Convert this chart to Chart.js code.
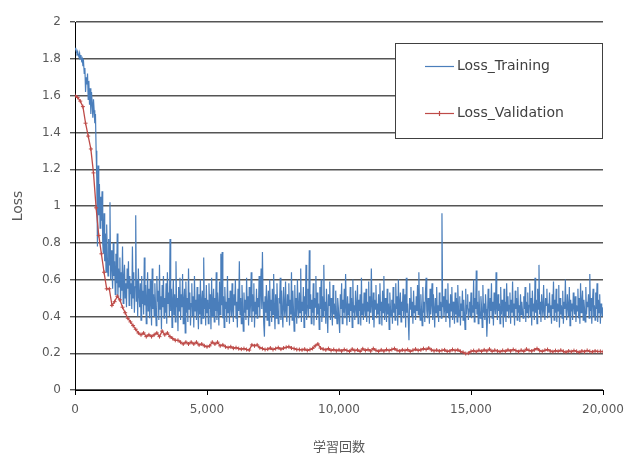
<!DOCTYPE html>
<html>
<head>
<meta charset="utf-8">
<script src="https://cdn.jsdelivr.net/npm/chart.js@4/dist/chart.umd.min.js"></script>
<style>
  html, body { margin: 0; padding: 0; background: #fff; }
  #wrap { width: 627px; height: 456px; position: relative; }
</style>
</head>
<body>
<div id="wrap"><canvas id="lossChart"></canvas></div>
<script>
// Loss values
const trainStep = 25;   // iterations between training samples
const validStep = 100;  // iterations between validation samples

const lossTraining = [
  1.85, 1.86, 1.84, 1.83, 1.84, 1.82, 1.81, 1.83, 1.80, 1.82, 1.79, 1.80, 1.76, 1.78, 1.72, 1.75, 1.62, 1.70, 1.66, 1.72,
  1.58, 1.68, 1.55, 1.64, 1.50, 1.62, 1.56, 1.48, 1.58, 1.52, 1.45, 1.50, 1.30, 1.15, 0.78, 1.22, 0.95, 1.12, 0.88, 1.05,
  0.92, 1.08, 0.80, 0.74, 0.96, 0.70, 0.85, 0.64, 0.90, 0.72, 0.62, 0.82, 0.68, 1.02, 0.60, 0.76, 0.66, 0.55, 0.80, 0.62,
  0.70, 0.52, 0.74, 0.58, 0.85, 0.50, 0.66, 0.56, 0.72, 0.48, 0.64, 0.54, 0.78, 0.47, 0.60, 0.68, 0.50, 0.58, 0.45, 0.66,
  0.55, 0.70, 0.46, 0.62, 0.52, 0.58, 0.44, 0.78, 0.50, 0.64, 0.42, 0.56, 0.95, 0.48, 0.60, 0.40, 0.66, 0.52, 0.45, 0.58,
  0.38, 0.62, 0.47, 0.54, 0.41, 0.72, 0.46, 0.57, 0.36, 0.50, 0.64, 0.43, 0.55, 0.39, 0.60, 0.48, 0.35, 0.66, 0.44, 0.52,
  0.40, 0.58, 0.46, 0.35, 0.62, 0.48, 0.54, 0.38, 0.68, 0.44, 0.51, 0.33, 0.57, 0.45, 0.62, 0.39, 0.50, 0.42, 0.58, 0.36,
  0.64, 0.47, 0.53, 0.40, 0.82, 0.43, 0.55, 0.34, 0.49, 0.60, 0.41, 0.52, 0.37, 0.70, 0.45, 0.50, 0.32, 0.56, 0.43, 0.61,
  0.38, 0.52, 0.45, 0.63, 0.36, 0.48, 0.55, 0.31, 0.59, 0.42, 0.50, 0.37, 0.66, 0.44, 0.53, 0.35, 0.47, 0.58, 0.40, 0.51,
  0.34, 0.62, 0.43, 0.49, 0.38, 0.56, 0.45, 0.33, 0.52, 0.41, 0.60, 0.36, 0.48, 0.54, 0.39, 0.72, 0.44, 0.50, 0.35, 0.57,
  0.42, 0.49, 0.36, 0.58, 0.44, 0.52, 0.33, 0.61, 0.40, 0.47, 0.55, 0.37, 0.50, 0.43, 0.64, 0.38, 0.53, 0.45, 0.35, 0.59,
  0.41, 0.74, 0.46, 0.75, 0.39, 0.51, 0.34, 0.56, 0.44, 0.48, 0.37, 0.62, 0.42, 0.50, 0.36, 0.54, 0.45, 0.40, 0.58, 0.43,
  0.37, 0.52, 0.46, 0.60, 0.39, 0.48, 0.34, 0.55, 0.43, 0.70, 0.41, 0.50, 0.36, 0.57, 0.45, 0.32, 0.53, 0.42, 0.49, 0.38,
  0.61, 0.44, 0.51, 0.35, 0.56, 0.40, 0.47, 0.64, 0.37, 0.52, 0.43, 0.58, 0.34, 0.48, 0.41, 0.55, 0.39, 0.50, 0.45, 0.62,
  0.40, 0.53, 0.66, 0.44, 0.75, 0.48, 0.36, 0.29, 0.51, 0.42, 0.57, 0.38, 0.46, 0.54, 0.35, 0.60, 0.43, 0.49, 0.37, 0.55,
  0.41, 0.63, 0.45, 0.33, 0.52, 0.39, 0.58, 0.44, 0.36, 0.50, 0.47, 0.61, 0.38, 0.54, 0.42, 0.34, 0.56, 0.45, 0.40, 0.59,
  0.43, 0.37, 0.52, 0.46, 0.58, 0.35, 0.49, 0.41, 0.64, 0.38, 0.54, 0.44, 0.32, 0.57, 0.40, 0.50, 0.36, 0.60, 0.45, 0.39,
  0.53, 0.42, 0.66, 0.37, 0.48, 0.43, 0.56, 0.34, 0.51, 0.41, 0.68, 0.38, 0.46, 0.55, 0.40, 0.76, 0.44, 0.52, 0.36, 0.49,
  0.42, 0.58, 0.35, 0.50, 0.45, 0.62, 0.38, 0.53, 0.41, 0.47, 0.33, 0.56, 0.44, 0.60, 0.37, 0.51, 0.40, 0.68, 0.43, 0.48,
  0.36, 0.55, 0.42, 0.31, 0.52, 0.46, 0.59, 0.38, 0.50, 0.44, 0.35, 0.57, 0.41, 0.47, 0.39, 0.54, 0.43, 0.36, 0.50, 0.45,
  0.38, 0.31, 0.52, 0.44, 0.58, 0.36, 0.49, 0.42, 0.55, 0.39, 0.63, 0.45, 0.35, 0.51, 0.41, 0.47, 0.37, 0.56, 0.43, 0.50,
  0.34, 0.60, 0.42, 0.46, 0.38, 0.54, 0.44, 0.40, 0.57, 0.36, 0.49, 0.43, 0.52, 0.35, 0.61, 0.41, 0.47, 0.38, 0.53, 0.44,
  0.40, 0.55, 0.37, 0.48, 0.43, 0.59, 0.36, 0.51, 0.42, 0.66, 0.45, 0.38, 0.53, 0.34, 0.49, 0.44, 0.57, 0.39, 0.47, 0.41,
  0.52, 0.36, 0.58, 0.43, 0.48, 0.35, 0.54, 0.42, 0.62, 0.38, 0.50, 0.45, 0.37, 0.55, 0.41, 0.47, 0.33, 0.53, 0.44, 0.40,
  0.49, 0.36, 0.56, 0.42, 0.47, 0.38, 0.58, 0.44, 0.51, 0.35, 0.60, 0.41, 0.46, 0.53, 0.37, 0.48, 0.43, 0.55, 0.39, 0.45,
  0.52, 0.34, 0.61, 0.42, 0.47, 0.38, 0.27, 0.50, 0.44, 0.56, 0.40, 0.48, 0.36, 0.54, 0.42, 0.46, 0.38, 0.51, 0.43, 0.57,
  0.41, 0.64, 0.45, 0.38, 0.52, 0.44, 0.35, 0.56, 0.42, 0.48, 0.37, 0.53, 0.61, 0.43, 0.39, 0.50, 0.46, 0.36, 0.55, 0.41,
  0.47, 0.58, 0.38, 0.52, 0.44, 0.34, 0.50, 0.42, 0.56, 0.40, 0.46, 0.37, 0.53, 0.43, 0.48, 0.39, 0.96, 0.45, 0.51, 0.40,
  0.44, 0.55, 0.37, 0.49, 0.42, 0.58, 0.39, 0.47, 0.34, 0.52, 0.43, 0.56, 0.38, 0.48, 0.45, 0.36, 0.53, 0.41, 0.50, 0.37,
  0.57, 0.44, 0.40, 0.51, 0.35, 0.47, 0.43, 0.54, 0.38, 0.49, 0.42, 0.33, 0.55, 0.41, 0.46, 0.52, 0.38, 0.44, 0.48, 0.40,
  0.53, 0.39, 0.46, 0.42, 0.60, 0.37, 0.50, 0.44, 0.65, 0.41, 0.48, 0.36, 0.54, 0.43, 0.39, 0.51, 0.45, 0.34, 0.57, 0.42,
  0.47, 0.38, 0.52, 0.44, 0.29, 0.40, 0.55, 0.46, 0.36, 0.50, 0.43, 0.58, 0.39, 0.48, 0.35, 0.53, 0.45, 0.41, 0.64, 0.44,
  0.38, 0.52, 0.43, 0.47, 0.36, 0.56, 0.41, 0.49, 0.44, 0.34, 0.55, 0.40, 0.48, 0.37, 0.58, 0.43, 0.51, 0.39, 0.46, 0.53,
  0.36, 0.49, 0.42, 0.59, 0.40, 0.47, 0.35, 0.54, 0.44, 0.50, 0.38, 0.56, 0.42, 0.46, 0.37, 0.52, 0.41, 0.48, 0.43, 0.39,
  0.51, 0.44, 0.56, 0.37, 0.48, 0.42, 0.53, 0.39, 0.46, 0.58, 0.40, 0.50, 0.35, 0.54, 0.43, 0.47, 0.38, 0.61, 0.42, 0.49,
  0.36, 0.55, 0.44, 0.68, 0.41, 0.48, 0.37, 0.52, 0.45, 0.40, 0.57, 0.43, 0.38, 0.50, 0.46, 0.55, 0.39, 0.47, 0.42, 0.53,
  0.40, 0.46, 0.36, 0.52, 0.44, 0.59, 0.38, 0.49, 0.42, 0.55, 0.37, 0.47, 0.43, 0.57, 0.34, 0.50, 0.41, 0.46, 0.39, 0.54,
  0.36, 0.48, 0.44, 0.60, 0.42, 0.38, 0.52, 0.45, 0.40, 0.56, 0.35, 0.49, 0.43, 0.47, 0.38, 0.53, 0.45, 0.41, 0.51, 0.37,
  0.46, 0.43, 0.55, 0.39, 0.50, 0.36, 0.58, 0.42, 0.47, 0.54, 0.38, 0.49, 0.44, 0.37, 0.56, 0.41, 0.48, 0.45, 0.52, 0.39,
  0.63, 0.43, 0.50, 0.36, 0.47, 0.55, 0.40, 0.46, 0.38, 0.53, 0.44, 0.58, 0.37, 0.49, 0.42, 0.52, 0.36, 0.47, 0.43, 0.40,
  0.45
];

const lossValidation = [
  1.60, 1.59, 1.57, 1.54, 1.45, 1.38, 1.31, 1.18, 0.99, 0.84, 0.74, 0.64, 0.55, 0.55, 0.46, 0.48, 0.51, 0.49, 0.45, 0.42,
  0.39, 0.37, 0.35, 0.33, 0.31, 0.30, 0.31, 0.29, 0.30, 0.29, 0.30, 0.31, 0.29, 0.32, 0.30, 0.31, 0.29, 0.28, 0.27, 0.27,
  0.26, 0.25, 0.26, 0.25, 0.26, 0.25, 0.26, 0.245, 0.25, 0.24, 0.235, 0.24, 0.26, 0.25, 0.26, 0.24, 0.245, 0.235, 0.23, 0.235,
  0.227, 0.23, 0.225, 0.222, 0.225, 0.22, 0.217, 0.245, 0.24, 0.245, 0.23, 0.225, 0.22, 0.222, 0.228, 0.22, 0.225, 0.23, 0.222, 0.228,
  0.232, 0.235, 0.228, 0.225, 0.22, 0.22, 0.218, 0.222, 0.215, 0.22, 0.226, 0.24, 0.25, 0.228, 0.222, 0.218, 0.225, 0.215, 0.22, 0.213,
  0.218, 0.212, 0.22, 0.215, 0.21, 0.222, 0.214, 0.218, 0.21, 0.224, 0.215, 0.22, 0.212, 0.225, 0.216, 0.21, 0.218, 0.212, 0.22, 0.214,
  0.22, 0.225, 0.216, 0.212, 0.218, 0.214, 0.22, 0.21, 0.216, 0.222, 0.215, 0.218, 0.225, 0.22, 0.228, 0.218, 0.213, 0.217, 0.212, 0.215,
  0.218, 0.21, 0.212, 0.22, 0.214, 0.218, 0.21, 0.205, 0.198, 0.20, 0.21, 0.214, 0.208, 0.216, 0.21, 0.218, 0.212, 0.222, 0.21, 0.216,
  0.212, 0.208, 0.215, 0.21, 0.218, 0.212, 0.22, 0.214, 0.208, 0.216, 0.21, 0.222, 0.215, 0.212, 0.218, 0.225, 0.214, 0.21, 0.216, 0.22,
  0.212, 0.208, 0.214, 0.21, 0.216, 0.21, 0.206, 0.212, 0.208, 0.214, 0.21, 0.205, 0.212, 0.208, 0.215, 0.21, 0.207, 0.212, 0.209, 0.21,
  0.208
];

const seriesNames = ['Loss_Training', 'Loss_Validation'];
const xTitle = '学習回数';
const yTitle = 'Loss';

const blue = '#4a7ebb';
const red = '#be4b48';
const textColor = '#595959';

const toPoints = (arr, step) => arr.map((v, i) => ({ x: i * step, y: v }));

// legend box drawn inside the plot, like the Excel original
const boxLegend = {
  id: 'boxLegend',
  afterDatasetsDraw(chart) {
    const c = chart.ctx;
    const x = 395.5, y = 43.5, w = 207, h = 95;
    c.save();
    c.fillStyle = '#fff';
    c.fillRect(x, y, w, h);
    c.strokeStyle = '#404040';
    c.lineWidth = 1;
    c.strokeRect(x, y, w, h);

    const rows = [
      { label: seriesNames[0], color: blue, ly: 66, marker: false },
      { label: seriesNames[1], color: red, ly: 113, marker: true }
    ];
    rows.forEach(r => {
      c.strokeStyle = r.color;
      c.lineWidth = 1.2;
      c.beginPath();
      c.moveTo(425, r.ly + 0.5);
      c.lineTo(454, r.ly + 0.5);
      c.stroke();
      if (r.marker) {
        c.beginPath();
        c.moveTo(439.5, r.ly - 2);
        c.lineTo(439.5, r.ly + 3);
        c.stroke();
      }
      c.fillStyle = '#404040';
      c.font = '14px "DejaVu Sans"';
      c.textBaseline = 'middle';
      c.textAlign = 'left';
      c.fillText(r.label, 457, r.ly);
    });
    c.restore();
  }
};

const ctx = document.getElementById('lossChart').getContext('2d');
const lossChart = new Chart(ctx, {
  type: 'line',
  data: {
    datasets: [
      {
        label: seriesNames[1],
        data: toPoints(lossValidation, validStep),
        borderColor: red,
        backgroundColor: red,
        borderWidth: 1.3,
        pointStyle: 'cross',
        pointRadius: 2,
        pointBorderWidth: 1,
        tension: 0
      },
      {
        label: seriesNames[0],
        data: toPoints(lossTraining, trainStep),
        borderColor: blue,
        backgroundColor: blue,
        borderWidth: 1.2,
        pointRadius: 0,
        tension: 0
      }
    ]
  },
  options: {
    responsive: true,
    maintainAspectRatio: false,
    animation: false,
    layout: { padding: { top: 22, right: 24, left: 0, bottom: 0 } },
    plugins: {
      legend: { display: false },
      tooltip: { enabled: false }
    },
    scales: {
      x: {
        type: 'linear',
        min: 0,
        max: 20000,
        border: { display: true, color: '#000', width: 1 },
        grid: { drawOnChartArea: false, drawTicks: true, tickLength: 5, color: '#000' },
        ticks: {
          stepSize: 5000,
          padding: 8,
          color: textColor,
          font: { family: 'DejaVu Sans', size: 12 },
          maxRotation: 0,
          callback: v => v.toLocaleString('en-US')
        },
        title: {
          display: true,
          text: xTitle,
          color: textColor,
          font: { family: '"Noto Sans CJK JP"', size: 13 },
          padding: { top: 0, bottom: 2 }
        },
        afterFit: s => { s.height = 66; s.paddingLeft = 0; s.paddingRight = 0; }
      },
      y: {
        min: 0,
        max: 2,
        border: { display: true, color: '#000', width: 1 },
        grid: { color: '#555', lineWidth: 1.4, drawTicks: true, tickLength: 5 },
        ticks: {
          stepSize: 0.2,
          padding: 9,
          color: textColor,
          font: { family: 'DejaVu Sans', size: 12 },
          callback: v => String(Math.round(v * 10) / 10)
        },
        title: {
          display: true,
          text: yTitle,
          color: textColor,
          font: { family: 'DejaVu Sans', size: 14 },
          padding: { top: 10, bottom: 0 }
        },
        afterFit: s => { s.width = 75; s.paddingTop = 0; s.paddingBottom = 0; }
      }
    }
  },
  plugins: [boxLegend]
});
</script>
</body>
</html>
